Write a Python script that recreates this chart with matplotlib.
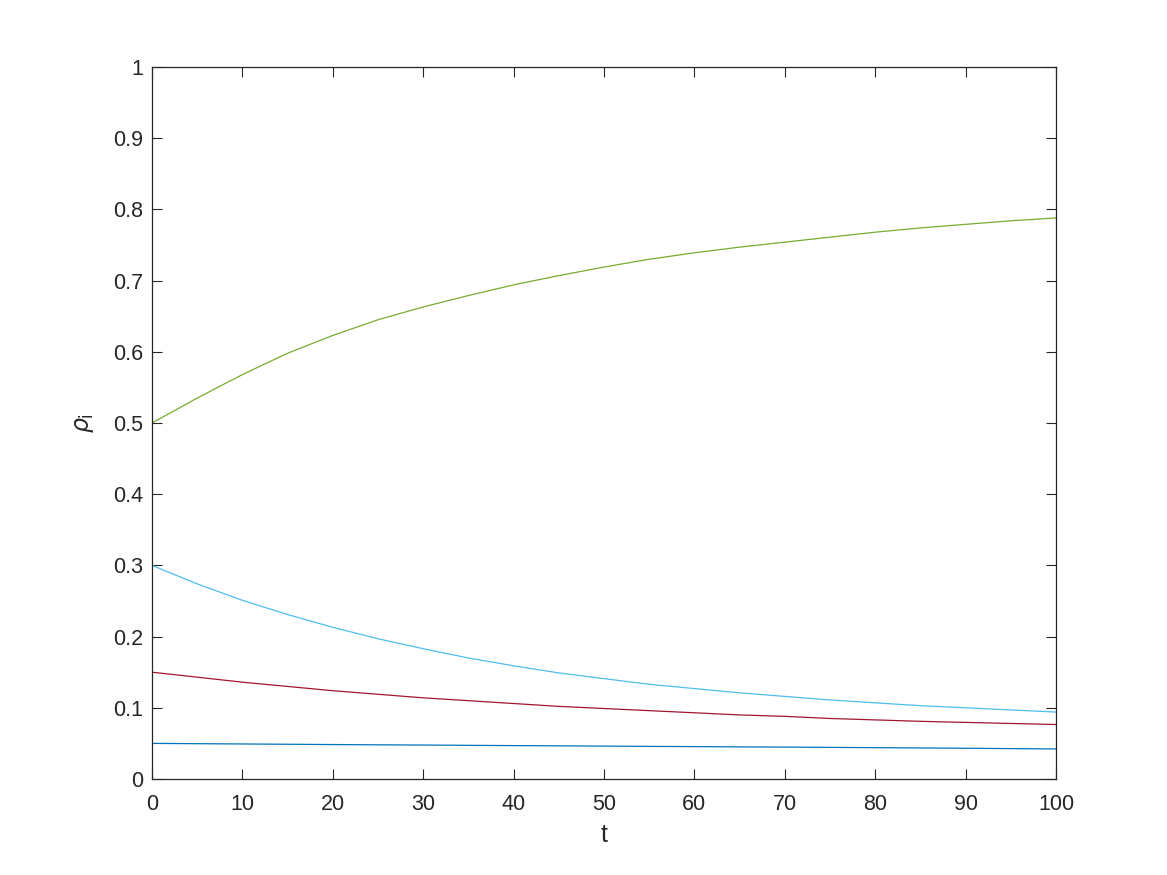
import matplotlib
matplotlib.use("Agg")
import matplotlib.pyplot as plt

plt.rcParams['font.family'] = ['Liberation Sans', 'DejaVu Sans']

t = [0, 5, 10, 15, 20, 25, 30, 35, 40, 45, 50,
     55, 60, 65, 70, 75, 80, 85, 90, 95, 100]
rho_green = [0.500, 0.535, 0.568, 0.598, 0.623, 0.645, 0.663, 0.679, 0.694, 0.707, 0.719,
             0.730, 0.739, 0.747, 0.754, 0.761, 0.768, 0.774, 0.779, 0.784, 0.788]
rho_cyan = [0.300, 0.274, 0.251, 0.231, 0.213, 0.197, 0.183, 0.170, 0.159, 0.149, 0.141,
            0.133, 0.127, 0.121, 0.116, 0.111, 0.107, 0.103, 0.100, 0.097, 0.094]
rho_red = [0.150, 0.143, 0.136, 0.130, 0.124, 0.119, 0.114, 0.110, 0.106, 0.102, 0.099,
           0.096, 0.093, 0.090, 0.088, 0.085, 0.083, 0.081, 0.0795, 0.078, 0.0765]
rho_blue = [0.0500, 0.0496, 0.0492, 0.0488, 0.0484, 0.0480, 0.0477, 0.0473, 0.0469, 0.0466, 0.0462,
            0.0458, 0.0455, 0.0451, 0.0448, 0.0444, 0.0440, 0.0436, 0.0432, 0.0427, 0.0422]

fig = plt.figure(figsize=(11.67, 8.75), dpi=100)
ax = fig.add_axes([152 / 1167, 1 - 779 / 875, 904 / 1167, 712 / 875])

ax.plot(t, rho_blue, color='#0072BD', lw=0.9)
ax.plot(t, rho_red, color='#A2142F', lw=0.9)
ax.plot(t, rho_cyan, color='#4DBEEE', lw=0.9)
ax.plot(t, rho_green, color='#77AC30', lw=0.9)

ax.set_xlim(0, 100)
ax.set_ylim(0, 1)
ax.set_xticks(range(0, 101, 10))
ax.set_yticks([i / 10 for i in range(11)])
ax.set_yticklabels(['0', '0.1', '0.2', '0.3', '0.4', '0.5', '0.6', '0.7', '0.8', '0.9', '1'])
ax.tick_params(direction='in', top=True, right=True, length=7.3, width=0.8,
               labelsize=15.5, colors='#262626')
ax.tick_params(axis='x', pad=10.5)
ax.tick_params(axis='y', pad=6.5)
for s in ax.spines.values():
    s.set_linewidth(0.9)
    s.set_color('#262626')

ax.set_xlabel('t', fontsize=18, color='#262626', labelpad=6)
ax.set_ylabel(r'$\rho_{\rm i}$', fontsize=17, color='#262626', labelpad=12)

fig.savefig('out.png', dpi=100, facecolor='white')
